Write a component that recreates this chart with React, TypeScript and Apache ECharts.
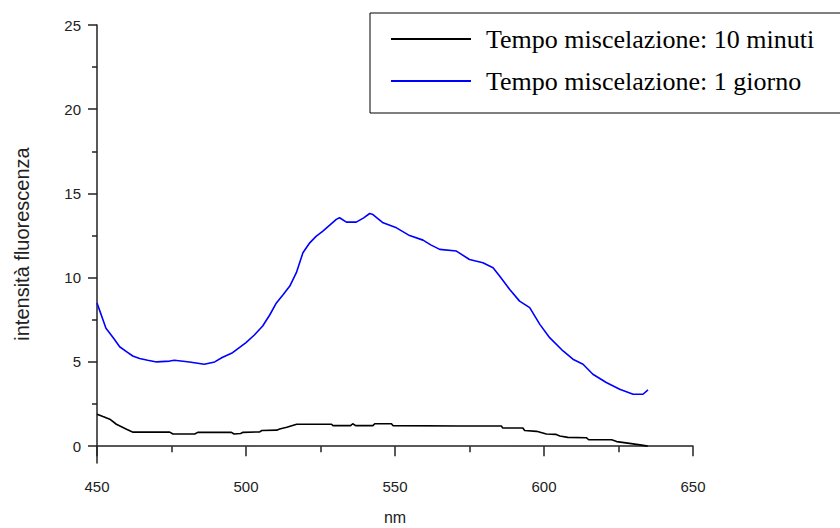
import React, { useEffect, useRef } from "react";
import * as echarts from "echarts";

const seriesNames = ["Tempo miscelazione: 10 minuti", "Tempo miscelazione: 1 giorno"];

const blackNm = [450, 452, 454.3, 456.5, 459.9, 462.1, 474.4, 475.5, 482.8, 483.8, 495.1, 496, 498.2, 499, 504.6, 505.3, 510.3, 511.3, 513.7, 517, 528.7, 529.2, 535.1, 535.8, 536.8, 542.6, 543.2, 548.8, 549.3, 571.7, 585.7, 586.1, 592.9, 593.5, 597.5, 600.8, 603.9, 605.3, 608, 614.2, 615, 622.7, 624.4, 628.1, 632.8, 634.8];
const blackVal = [1.9, 1.76, 1.6, 1.3, 1.0, 0.83, 0.83, 0.72, 0.72, 0.82, 0.82, 0.72, 0.75, 0.82, 0.85, 0.93, 0.95, 1.02, 1.12, 1.3, 1.3, 1.22, 1.22, 1.33, 1.22, 1.22, 1.33, 1.33, 1.22, 1.2, 1.2, 1.08, 1.08, 0.93, 0.88, 0.72, 0.7, 0.6, 0.52, 0.5, 0.38, 0.38, 0.27, 0.18, 0.06, 0.0];

const blueNm = [450, 451, 452, 453, 454.3, 456, 457.6, 460, 462, 464.3, 467, 470, 474.4, 476, 481, 486, 489.5, 492, 495.5, 500, 502.8, 505.6, 508, 510.2, 512.5, 514.7, 516.9, 519.1, 521.4, 523.5, 525.8, 528, 530.3, 531.4, 533.7, 537, 539.5, 541.5, 542.6, 546, 550.5, 554.9, 559.4, 562, 565, 570.6, 575, 579.5, 582.9, 585.1, 588.5, 591.8, 595.2, 598.6, 601.9, 606.4, 609.7, 613.1, 616.4, 620.9, 625.4, 629.9, 633.2, 634.9];
const blueVal = [8.5, 8.0, 7.5, 7.0, 6.7, 6.3, 5.9, 5.6, 5.35, 5.2, 5.1, 5.0, 5.05, 5.1, 5.0, 4.86, 5.0, 5.26, 5.55, 6.15, 6.6, 7.13, 7.8, 8.5, 9.0, 9.5, 10.3, 11.48, 12.07, 12.45, 12.76, 13.1, 13.46, 13.56, 13.3, 13.3, 13.55, 13.81, 13.75, 13.26, 12.96, 12.5, 12.23, 11.95, 11.68, 11.58, 11.08, 10.89, 10.59, 10.1, 9.3, 8.61, 8.22, 7.23, 6.44, 5.65, 5.16, 4.86, 4.27, 3.78, 3.38, 3.08, 3.08, 3.34];

const yMajorTicks = [0, 5, 10, 15, 20, 25];
const yMinorTicks = [2.5, 7.5, 12.5, 17.5, 22.5];

const xName = "nm";
const yName = "intensità fluorescenza";

const axisColor = "#222";
const labelFont = { fontFamily: "Liberation Sans, Arial, sans-serif", fontSize: 15, color: "#222" };

export default function App() {
  const ref = useRef<HTMLDivElement>(null);
  useEffect(() => {
    if (!ref.current) return;
    const chart = echarts.init(ref.current, undefined, { renderer: "svg" });
    const pair = (xs: number[], ys: number[]) => xs.map((x, i) => [x, ys[i]]);
    chart.setOption({
      animation: false,
      backgroundColor: "#fff",
      grid: { left: 97, right: 147, top: 25, bottom: 65, outerBoundsMode: "none" },
      legend: {
        orient: "vertical",
        left: 370,
        top: 13,
        padding: [13, 27, 19, 21],
        itemGap: 16,
        itemWidth: 80,
        itemHeight: 2,
        icon: "rect",
        borderColor: "#000",
        borderWidth: 1,
        data: seriesNames,
        textStyle: {
          fontFamily: "Liberation Serif, Times New Roman, serif",
          fontSize: 26,
          color: "#000",
          padding: [0, 0, 0, 10],
        },
      },
      xAxis: {
        type: "value",
        min: 450,
        max: 650,
        interval: 50,
        name: xName,
        nameLocation: "middle",
        nameGap: 46,
        nameTextStyle: { ...labelFont, fontSize: 16 },
        axisLine: { show: true, lineStyle: { color: axisColor, width: 1.5 } },
        axisTick: { show: true, length: 10, lineStyle: { color: axisColor, width: 1.5 } },
        minorTick: { show: true, splitNumber: 2, length: 6, lineStyle: { color: axisColor, width: 1.5 } },
        axisLabel: { ...labelFont, margin: 16 },
        splitLine: { show: false },
      },
      yAxis: [
        {
          type: "value",
          min: -1,
          max: 25,
          position: "left",
          name: yName,
          nameLocation: "middle",
          nameGap: 65,
          nameTextStyle: { ...labelFont, fontSize: 20 },
          axisLine: { show: true, lineStyle: { color: axisColor, width: 1.5 } },
          axisTick: { show: true, length: 9, customValues: yMajorTicks, lineStyle: { color: axisColor, width: 1.5 } },
          axisLabel: { ...labelFont, margin: 16, customValues: yMajorTicks },
          splitLine: { show: false },
        },
        {
          type: "value",
          min: -1,
          max: 25,
          position: "left",
          axisLine: { show: false },
          axisTick: { show: true, length: 5, customValues: yMinorTicks, lineStyle: { color: axisColor, width: 1.5 } },
          axisLabel: { show: false },
          splitLine: { show: false },
        },
      ],
      series: [
        {
          name: seriesNames[0],
          type: "line",
          data: pair(blackNm, blackVal),
          showSymbol: false,
          color: "#000",
          lineStyle: { color: "#000", width: 1.6 },
        },
        {
          name: seriesNames[1],
          type: "line",
          data: pair(blueNm, blueVal),
          showSymbol: false,
          color: "#0000ff",
          lineStyle: { color: "#0000ff", width: 1.6 },
        },
      ],
    });
    return () => chart.dispose();
  }, []);
  return <div ref={ref} style={{ width: 840, height: 528, position: "absolute", left: 0, top: 0 }} />;
}
